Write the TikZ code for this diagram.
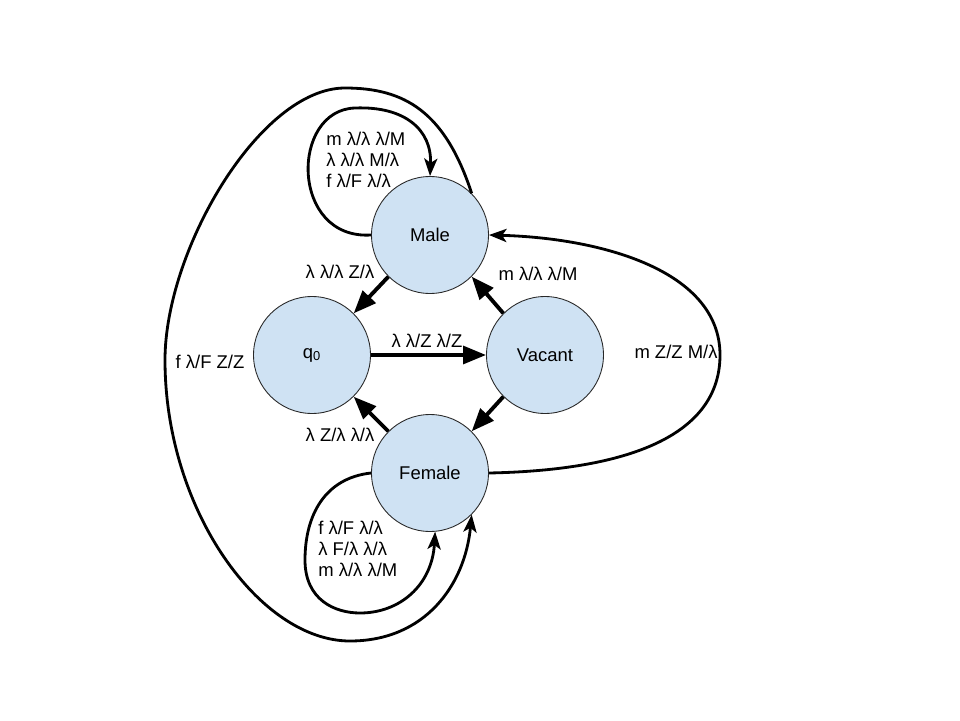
\documentclass[tikz,border=0pt]{standalone}
\usepackage{fontspec}
\setmainfont{Liberation Sans}
\usetikzlibrary{arrows.meta, positioning}
\definecolor{stfill}{RGB}{207, 226, 243}
\definecolor{stline}{RGB}{40, 40, 40}

\begin{document}
\begin{tikzpicture}[
    x=0.02cm, y=-0.02cm,
    state/.style={circle, draw=stline, fill=stfill, line width=0.5pt,
      minimum size=2.34cm, inner sep=0pt, font=\fontsize{10.5}{12}\selectfont},
    trans/.style={-{Triangle[length=13pt, width=10pt]}, line width=2.2pt},
    curvy/.style={-{Stealth[length=10pt, width=7.5pt, inset=2.5pt]}, line width=1.6pt},
    lbl/.style={font=\fontsize{10.5}{12}\selectfont, inner sep=0pt, align=left}
  ]
  \useasboundingbox (0,0) rectangle (960,720);

  % states
  \node[state] (male) at (430,235) {Male};
  \node[state] (q0) at (312,355) {q\textsubscript{0}};
  \node[state] (vacant) at (545,355) {Vacant};
  \node[state] (female) at (430,473) {Female};

  % straight moves
  \draw[trans] (male.225) -- (q0.45);
  \draw[trans] (vacant.135) -- (male.-45);
  \draw[trans] (q0.east) -- (vacant.west);
  \draw[trans] (vacant.225) -- (female.45);
  \draw[trans] (female.135) -- (q0.-45);

  % self loops
  \draw[curvy] (male.west) .. controls (290,240) and (290,110) .. (355,108)
    .. controls (405,106) and (432,130) .. (male.north);
  \draw[curvy] (female.west) .. controls (325,478) and (305,515) .. (305,560)
    .. controls (305,600) and (335,613) .. (360,613)
    .. controls (400,613) and (432,585) .. (female.-85);

  % long curves
  \draw[curvy] (male.45) .. controls (445,112) and (405,88) .. (345,88)
    .. controls (260,88) and (165,250) .. (165,360)
    .. controls (165,510) and (260,641) .. (350,641)
    .. controls (425,641) and (465,585) .. (female.-45);
  \draw[curvy] (female.east) .. controls (640,470) and (720,430) .. (720,355)
    .. controls (720,270) and (600,238) .. (male.east);

  % labels
  \node[lbl] (lmq) at (340,272) {λ λ/λ Z/λ};
  \node[lbl] (lvm) at (538,274) {m λ/λ λ/M};
  \node[lbl] (lqv) at (427,341) {λ λ/Z λ/Z};
  \node[lbl] (lfq) at (340,435) {λ Z/λ λ/λ};
  \node[lbl] (lmf) at (210,362) {f λ/F Z/Z};
  \node[lbl] (lfm) at (676,352) {m Z/Z M/λ};
  \node[lbl, anchor=west] (lmm) at (326,160) {m λ/λ λ/M\\λ λ/λ M/λ\\f λ/F λ/λ};
  \node[lbl, anchor=west] (lff) at (318,549) {f λ/F λ/λ\\λ F/λ λ/λ\\m λ/λ λ/M};
\end{tikzpicture}
\end{document}
